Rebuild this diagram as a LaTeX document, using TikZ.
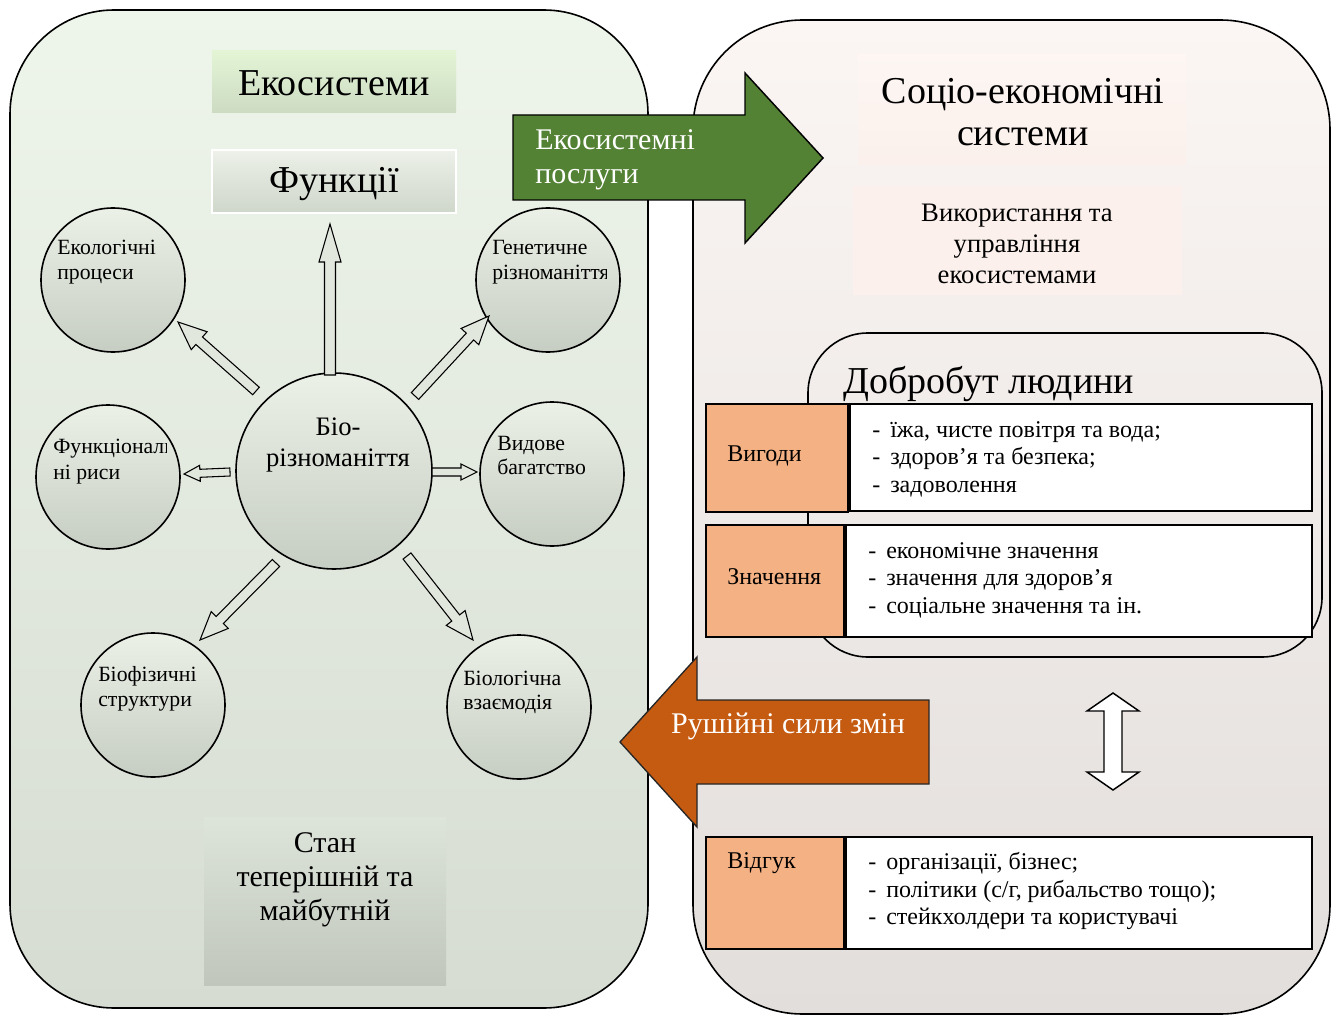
\documentclass[tikz,border=0pt]{standalone}
\usepackage{fontspec}
\setmainfont{Liberation Serif}
\usetikzlibrary{calc}
\definecolor{lgtop}{RGB}{238,245,234}
\definecolor{lgbot}{RGB}{214,220,210}
\definecolor{rgtop}{RGB}{251,246,244}
\definecolor{rgbot}{RGB}{226,222,219}
\definecolor{ctop}{RGB}{236,241,231}
\definecolor{cbot}{RGB}{198,205,194}
\definecolor{afill}{RGB}{226,231,221}
\definecolor{greenA}{RGB}{84,130,53}
\definecolor{orangeA}{RGB}{197,90,17}
\definecolor{peachc}{RGB}{244,177,131}
\definecolor{ekotop}{RGB}{228,245,214}
\definecolor{ekobot}{RGB}{204,219,194}
\definecolor{funtop}{RGB}{237,241,233}
\definecolor{funbot}{RGB}{207,214,202}
\definecolor{stantop}{RGB}{221,228,218}
\definecolor{stanbot}{RGB}{192,198,188}
\definecolor{pinkbox}{RGB}{251,240,235}
\newcommand\blockarrow[5]{%
  \draw[barrow] let \p1=($(#2)-(#1)$), \n1={atan2(\y1,\x1)}, \n2={veclen(\x1,\y1)}, \n3={\n2-#5*0.75pt} in
    ($(#1)+(\n1+90:#3*0.75pt)$) --
    ($(#1)+(\n1:\n3)+(\n1+90:#3*0.75pt)$) --
    ($(#1)+(\n1:\n3)+(\n1+90:#4*0.75pt)$) --
    (#2) --
    ($(#1)+(\n1:\n3)+(\n1-90:#4*0.75pt)$) --
    ($(#1)+(\n1:\n3)+(\n1-90:#3*0.75pt)$) --
    ($(#1)+(\n1-90:#3*0.75pt)$) -- cycle;}
\tikzset{
  panel/.style={draw=black, line width=1.2pt},
  circ/.style={circle, draw=black, line width=1.2pt, top color=ctop, bottom color=cbot, minimum size=108pt, inner sep=0pt},
  bigcirc/.style={circ, minimum size=147pt},
  barrow/.style={draw=black, line width=0.8pt, fill=afill, line join=miter},
  peach/.style={draw=black, line width=1.5pt, fill=peachc},
  listbox/.style={draw=black, line width=1.5pt, fill=white},
  ctext/.style={anchor=base west, inner sep=0pt, font=\fontsize{16.3}{18.8}\selectfont},
  ltext/.style={anchor=west, align=left, inner sep=0pt, font=\fontsize{18}{20.6}\selectfont},
  head/.style={inner sep=0pt, font=\fontsize{28.5}{31.5}\selectfont},
  mid/.style={inner sep=0pt, align=center, font=\fontsize{22.5}{25.5}\selectfont},
}
\newcommand\dsh{\makebox[13.5pt][l]{-}}
\begin{document}
\begin{tikzpicture}[x=0.75pt,y=-0.75pt]
\useasboundingbox (0,0) rectangle (1338,1016);
% panels
\draw[panel, rounded corners=78pt, top color=lgtop, bottom color=lgbot] (10,10) rectangle (648,1008);
\draw[panel, rounded corners=82pt, top color=rgtop, bottom color=rgbot] (693,20) rectangle (1330,1014);

% left content
\node[top color=ekotop, bottom color=ekobot, minimum width=183pt, minimum height=47pt, inner sep=0pt] (ekobox) at (334,81.5) {};
\node[head] (eko) at (334,83) {Екосистеми};
\node[draw=white, line width=1.5pt, top color=funtop, bottom color=funbot, minimum width=183pt, minimum height=47pt, inner sep=0pt] (funbox) at (334,181.5) {};
\node[head] (fun) at (334,184) {Функції};

\node[circ] (ecop) at (113,280) {};
\node[circ] (gen)  at (548,280) {};
\node[circ] (func) at (108,477) {};
\node[circ] (vyd)  at (552,474) {};
\node[circ] (biof) at (153,705) {};
\node[circ] (biol) at (519,707) {};
\node[bigcirc] (bio) at (334,471) {};

\node[ctext] at (57,255) {Екологічні};
\node[ctext] at (57,280) {процеси};
\node[ctext] at (492,255) {Генетичне};
\begin{scope}
\clip (480,262) rectangle (606,292);
\node[ctext] at (492,280) {різноманіття};
\end{scope}
\begin{scope}
\clip (40,432) rectangle (166,462);
\node[ctext] at (53,453) {Функціональ};
\end{scope}
\node[ctext] at (53,479) {ні риси};
\node[ctext] at (497,450) {Видове};
\node[ctext] at (497,474) {багатство};
\node[ctext] at (98,681) {Біофізичні};
\node[ctext] at (98,706) {структури};
\node[ctext] at (463,685) {Біологічна};
\node[ctext] at (463,709) {взаємодія};
\node[inner sep=0pt, align=center, font=\fontsize{20}{23}\selectfont] (biot) at (338,445) {Біо-\\різноманіття};

% block arrows
\coordinate (a0s) at (330,375); \coordinate (a0e) at (330,224);
\coordinate (a1s) at (256,391); \coordinate (a1e) at (178,322);
\coordinate (a2s) at (415,396); \coordinate (a2e) at (489,316);
\coordinate (a3s) at (230,472); \coordinate (a3e) at (184,474);
\coordinate (a4s) at (432,472); \coordinate (a4e) at (477,472);
\coordinate (a5s) at (276,563); \coordinate (a5e) at (200,640);
\coordinate (a6s) at (407,556); \coordinate (a6e) at (473,640);
\blockarrow{a0s}{a0e}{5.5}{11}{38}
\blockarrow{a1s}{a1e}{5}{12}{28}
\blockarrow{a2s}{a2e}{5}{12}{28}
\blockarrow{a3s}{a3e}{4}{8}{16}
\blockarrow{a4s}{a4e}{4}{8}{16}
\blockarrow{a5s}{a5e}{5}{12}{28}
\blockarrow{a6s}{a6e}{5}{12}{28}

\node[top color=stantop, bottom color=stanbot, minimum width=181.5pt, minimum height=126pt, inner sep=0pt] (stanbox) at (325,901) {};
\node[mid] (stan) at (325,880) {Стан\\теперішній та\\майбутній};

% right content
\node[top color=pinkbox!60!white, bottom color=pinkbox, minimum width=246pt, minimum height=82.5pt, inner sep=0pt] (sebox) at (1022,110) {};
\node[head, align=center] (se) at (1023,112) {Соціо-економічні\\системи};
\node[fill=pinkbox, minimum width=247pt, minimum height=82pt, inner sep=0pt] (vubox) at (1017.5,240.5) {};
\node[inner sep=0pt, align=center, font=\fontsize{20}{23.25}\selectfont] (vu) at (1017,244) {Використання та\\управління\\екосистемами};

\draw[line width=1.2pt, rounded corners=45pt] (808,333) rectangle (1322,657);
\node[head, anchor=west] (dob) at (843,384) {Добробут людини};

\draw[peach] (706,404) rectangle (848,512);
\draw[listbox] (850,404) rectangle (1312,511);
\node[ltext] (vyg) at (727,456) {Вигоди};
\node[ltext] (l1) at (872,459) {\dsh їжа, чисте повітря та вода;\\\dsh здоров’я та безпека;\\\dsh задоволення};

\draw[peach] (706,525) rectangle (844,637);
\draw[listbox] (846,525) rectangle (1312,637);
\node[ltext] (zn) at (727,577) {Значення};
\node[ltext] (l2) at (868,580) {\dsh економічне значення\\\dsh значення для здоров’я\\\dsh соціальне значення та ін.};

\draw[peach] (706,837) rectangle (844,949);
\draw[listbox] (846,837) rectangle (1312,949);
\node[ltext] (vg) at (727,863) {Відгук};
\node[ltext] (l3) at (868,891) {\dsh організації, бізнес;\\\dsh політики (с/г, рибальство тощо);\\\dsh стейкхолдери та користувачі};

% double arrow
\coordinate (dt) at (1113,693);
\coordinate (db) at (1113,790);
\draw[line width=1.1pt, fill=white, line join=miter]
  (dt) -- ++(26,18) -- ++(-17,0) -- ++(0,61) -- ++(17,0) -- (db) -- ++(-26,-18) -- ++(17,0) -- ++(0,-61) -- ++(-17,0) -- cycle;

% big arrows
\draw[line width=1.1pt, fill=greenA, line join=miter]
  (513,115) -- (745,115) -- (745,73) -- (823,158) -- (745,243) -- (745,200) -- (513,200) -- cycle;
\node[anchor=west, align=left, inner sep=0pt, text=white, font=\fontsize{22.5}{25.5}\selectfont] (es) at (535,160) {Екосистемні\\послуги};

\draw[line width=1pt, draw=black!85, fill=orangeA, line join=miter]
  (929,700) -- (697,700) -- (697,657) -- (620,742) -- (697,827) -- (697,784) -- (929,784) -- cycle;
\node[inner sep=0pt, text=white, font=\fontsize{22.5}{25.5}\selectfont] (rs) at (788,726) {Рушійні сили змін};
\end{tikzpicture}
\end{document}
